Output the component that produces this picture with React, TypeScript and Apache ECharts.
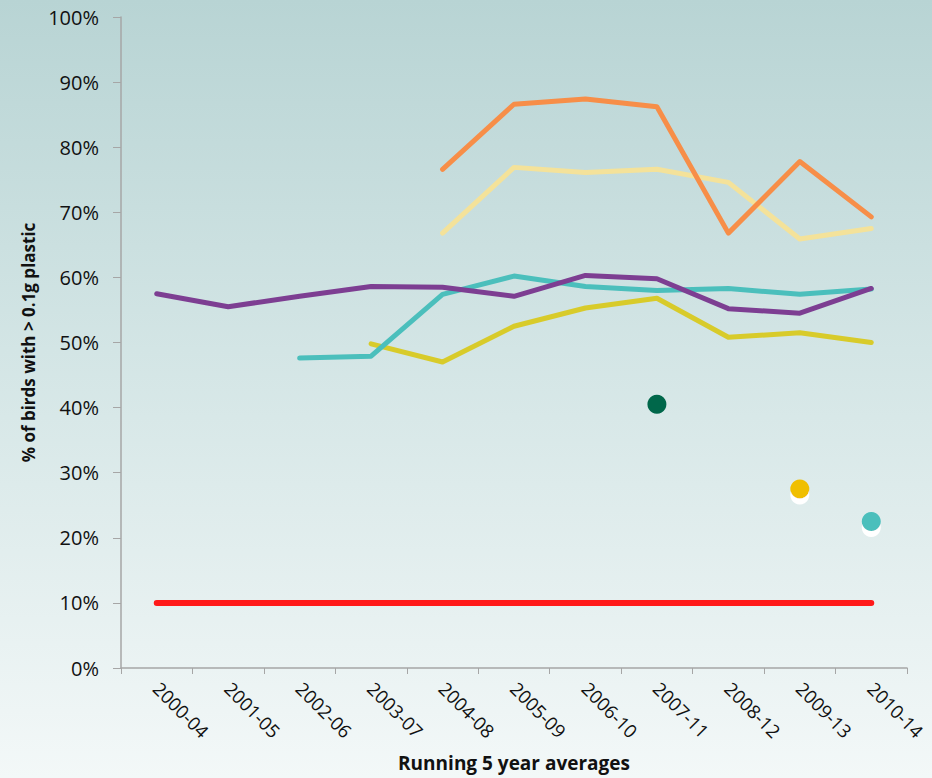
import React, { useEffect, useRef } from "react";
import * as echarts from "echarts";

const categories = ["2000-04", "2001-05", "2002-06", "2003-07", "2004-08", "2005-09", "2006-10", "2007-11", "2008-12", "2009-13", "2010-14"];
const target = [10, 10, 10, 10, 10, 10, 10, 10, 10, 10, 10];
const purple = [57.5, 55.5, 57.1, 58.6, 58.5, 57.1, 60.3, 59.8, 55.2, 54.5, 58.3];
const teal = [null, null, 47.6, 47.9, 57.4, 60.2, 58.6, 58.0, 58.3, 57.4, 58.2];
const yellow = [null, null, null, 49.8, 47.0, 52.5, 55.3, 56.8, 50.8, 51.5, 50.0];
const orange = [null, null, null, null, 76.6, 86.6, 87.4, 86.2, 66.8, 77.8, 69.3];
const paleYellow = [null, null, null, null, 66.8, 76.9, 76.1, 76.6, 74.6, 65.9, 67.5];
const greenDot = [null, null, null, null, null, null, null, 40.5, null, null, null];
const goldDot = [null, null, null, null, null, null, null, null, null, 27.5, null];
const tealDot = [null, null, null, null, null, null, null, null, null, null, 22.5];
const yTicks = [0, 10, 20, 30, 40, 50, 60, 70, 80, 90, 100];

const FONT = "'Open Sans', 'Noto Sans', sans-serif";

export default function App() {
  const ref = useRef<HTMLDivElement>(null);
  useEffect(() => {
    document.body.style.margin = "0";
    const chart = echarts.init(ref.current!, null, { renderer: "svg" });
    const line = (data: any[], color: string, width = 5) => ({
      type: "line",
      data,
      symbol: "none",
      connectNulls: false,
      lineStyle: { color, width, cap: "round", join: "round" },
      z: 3,
    });
    const dot = (data: any[], color: string, shadow: boolean) => ({
      type: "scatter",
      data,
      symbol: "circle",
      symbolSize: 19,
      itemStyle: shadow
        ? { color, shadowColor: "#ffffff", shadowBlur: 0, shadowOffsetY: 6, opacity: 1 }
        : { color, opacity: 1 },
      z: 4,
    });
    chart.setOption({
      animation: false,
      grid: { left: 121, right: 25, top: 17, bottom: 110 },
      xAxis: {
        type: "category",
        data: categories,
        boundaryGap: true,
        axisLine: { lineStyle: { color: "#a6a6a6", width: 1.5 } },
        axisTick: { show: true, length: 6, lineStyle: { color: "#a6a6a6" } },
        axisLabel: { rotate: -45, margin: 17, fontSize: 18.5, color: "#111", fontFamily: FONT },
        name: "Running 5 year averages",
        nameLocation: "middle",
        nameGap: 85,
        nameTextStyle: { fontSize: 19, fontWeight: "bold", color: "#111", fontFamily: FONT },
      },
      yAxis: {
        type: "value",
        min: 0,
        max: 100,
        interval: 10,
        splitLine: { show: false },
        axisLine: { show: true, lineStyle: { color: "#a6a6a6", width: 1.5 } },
        axisTick: { show: true, length: 8, lineStyle: { color: "#a6a6a6" } },
        axisLabel: {
          fontSize: 20,
          color: "#111",
          margin: 22,
          fontFamily: FONT,
          formatter: (v: number) => (yTicks.includes(v) ? v + "%" : ""),
        },
        name: "% of birds with > 0.1g plastic",
        nameLocation: "middle",
        nameGap: 84,
        nameRotate: 90,
        nameTextStyle: { fontSize: 17, fontWeight: "bold", color: "#111", fontFamily: FONT },
      },
      series: [
        line(target, "#ff1a1a", 6),
        line(yellow, "#d8cb2a"),
        line(teal, "#4bbfbc"),
        line(purple, "#7d3e92"),
        line(paleYellow, "#f4e29a"),
        line(orange, "#f78e48"),
        dot(greenDot, "#00674a", false),
        dot(goldDot, "#f0bf00", true),
        dot(tealDot, "#4bbfbc", true),
      ],
    });
    return () => chart.dispose();
  }, []);
  return (
    <div
      ref={ref}
      style={{
        width: 932,
        height: 778,
        background: "linear-gradient(to bottom, #b8d4d4 0%, #d3e5e5 45%, #f3f8f8 100%)",
      }}
    />
  );
}
